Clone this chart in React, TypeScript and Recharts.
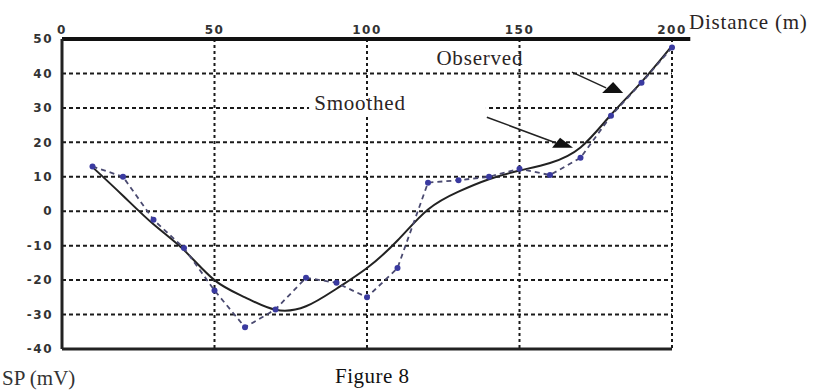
import React from 'react';
import {
  LineChart,
  Line,
  XAxis,
  YAxis,
  CartesianGrid,
  ReferenceLine,
  ReferenceArea,
  ReferenceDot,
} from 'recharts';

// Distance along profile (m)
const distance = [10, 20, 30, 40, 50, 60, 70, 80, 90, 100, 110, 120, 130, 140, 150, 160, 170, 180, 190, 200];
// Observed SP (mV)
const observedSP = [13, 10, -2.5, -10.7, -23, -33.7, -28.5, -19.3, -20.8, -25, -16.5, 8.3, 9, 10, 12.3, 10.5, 15.5, 27.7, 37.3, 47.5];
// Smoothed SP (mV)
const smoothedSP = [12.8, 4.5, -3.8, -11.3, -20, -25, -28.6, -27.6, -22.5, -16.5, -8.5, 0.5, 5.7, 9.3, 11.8, 14, 18.5, 28, 37.5, 48];

const xTicks = [0, 50, 100, 150, 200];
const yTicks = [50, 40, 30, 20, 10, 0, -10, -20, -30, -40];

const observedData = distance.map((d, i) => ({ x: d, y: observedSP[i] }));
const smoothedData = distance.map((d, i) => ({ x: d, y: smoothedSP[i] }));

const tickStyle = {
  fontFamily: 'DejaVu Sans',
  fontWeight: 'bold',
  fontSize: 12,
  fill: '#333',
  letterSpacing: 1.5,
};

const serif = '"Liberation Serif", "Times New Roman", serif';

const makeText = (label: string) => (p: any) => (
  <text
    x={p.cx}
    y={p.cy}
    textAnchor="middle"
    fontFamily={serif}
    fontSize={21}
    letterSpacing={0.8}
    fill="#2b2424"
  >
    {label}
  </text>
);

const makeHead = (lx: number, rx: number, h: number) => (p: any) => (
  <path
    d={`M${p.cx - lx},${p.cy + h} L${p.cx},${p.cy} L${p.cx + rx},${p.cy + h} Z`}
    fill="#111"
  />
);

export default function App() {
  return (
    <div style={{ position: 'absolute', left: 0, top: 0, width: 815, height: 391, background: '#fff' }}>
      <LineChart width={815} height={391} margin={{ top: 9, right: 143, bottom: 42, left: 0 }}>
        <CartesianGrid vertical={false} stroke="#1a1a1a" strokeWidth={2} strokeDasharray="4 3" />
        <CartesianGrid horizontal={false} stroke="#1a1a1a" strokeWidth={2} strokeDasharray="3 3" />
        <ReferenceArea x1={81} x2={139} y1={27.9} y2={32.3} fill="#fff" fillOpacity={1} stroke="none" ifOverflow="visible" />
        <XAxis
          type="number"
          dataKey="x"
          domain={[0, 200]}
          ticks={xTicks}
          interval={0}
          orientation="top"
          axisLine={false}
          tickLine={false}
          tickSize={0}
          tickMargin={5}
          height={30}
          tick={tickStyle}
        />
        <YAxis
          type="number"
          domain={[-40, 50]}
          ticks={yTicks}
          interval={0}
          width={62}
          axisLine={{ stroke: '#222', strokeWidth: 3 }}
          tickLine={false}
          tickSize={0}
          tickMargin={9}
          tick={tickStyle}
        />
        <ReferenceLine segment={[{ x: 0, y: 50 }, { x: 206, y: 50 }]} stroke="#111" strokeWidth={4} ifOverflow="visible" />
        <ReferenceLine y={-40} stroke="#222" strokeWidth={3} />
        <Line
          data={smoothedData}
          dataKey="y"
          type="natural"
          stroke="#222"
          strokeWidth={2}
          dot={false}
          isAnimationActive={false}
        />
        <Line
          data={observedData}
          dataKey="y"
          type="linear"
          stroke="#4a4a70"
          strokeWidth={1.8}
          strokeDasharray="5 4"
          dot={{ r: 3, fill: '#3a3aa0', stroke: 'none' }}
          isAnimationActive={false}
        />
        <ReferenceLine segment={[{ x: 167.2, y: 40.4 }, { x: 178.4, y: 35.8 }]} stroke="#222" strokeWidth={1.5} ifOverflow="visible" />
        <ReferenceLine segment={[{ x: 139.3, y: 27.3 }, { x: 162, y: 19.8 }]} stroke="#222" strokeWidth={1.5} ifOverflow="visible" />
        <ReferenceDot x={180.7} y={37.5} r={0} shape={makeHead(11, 10, 11)} ifOverflow="visible" />
        <ReferenceDot x={163.3} y={21.3} r={0} shape={makeHead(8, 13, 10)} ifOverflow="visible" />
        <ReferenceDot x={137} y={42.4} r={0} shape={makeText('Observed')} ifOverflow="visible" />
        <ReferenceDot x={97.7} y={29.4} r={0} shape={makeText('Smoothed')} ifOverflow="visible" />
      </LineChart>
      <svg
        width={815}
        height={391}
        style={{ position: 'absolute', left: 0, top: 0, pointerEvents: 'none' }}
      >
        <text x={689} y={29} fontFamily={serif} fontSize={21} letterSpacing={0.8} fill="#2b2424">
          Distance (m)
        </text>
        <text x={2} y={385} fontFamily={serif} fontSize={21} fill="#333">
          SP (mV)
        </text>
        <text x={335} y={383} fontFamily={serif} fontSize={21} letterSpacing={0.5} fill="#111">
          Figure 8
        </text>
      </svg>
    </div>
  );
}
